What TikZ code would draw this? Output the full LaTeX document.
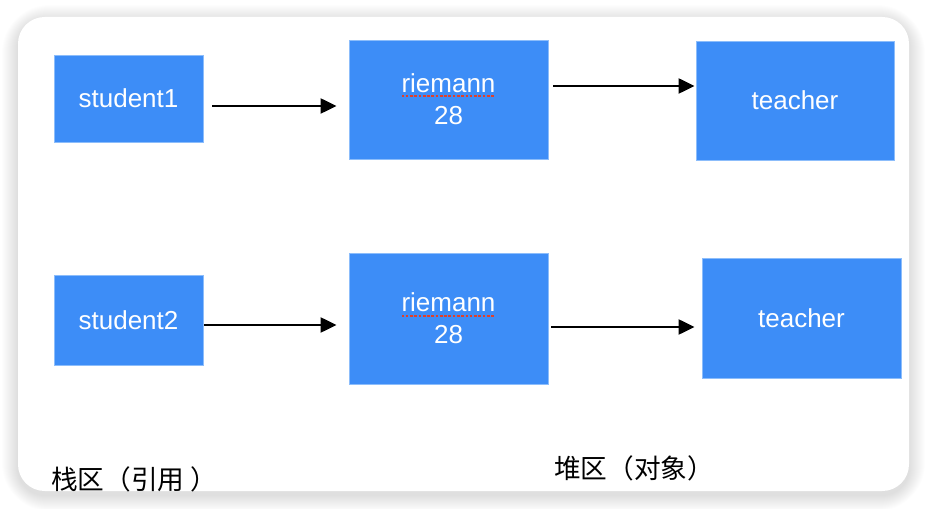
\documentclass[tikz,border=0pt]{standalone}
\usepackage{fontspec}
\setmainfont{Liberation Sans}
\newfontfamily\cjk{Noto Sans CJK SC}
\usetikzlibrary{arrows.meta,calc}
\definecolor{boxblue}{HTML}{3D8DF7}
\definecolor{boxedge}{HTML}{8CBDFB}
\definecolor{spellred}{HTML}{E0402A}
\tikzset{
  blk/.style={rectangle, fill=boxblue, draw=boxedge, line width=0.5pt, text=white,
    font=\fontsize{19.5}{24}\selectfont, align=center, inner sep=0pt},
  link/.style={line width=2.2pt, -{Triangle[length=12pt,width=11pt]}},
  spell/.style={draw=spellred, line width=1.5pt, dash pattern=on 2pt off 1.2pt},
  zone/.style={font=\cjk\fontsize{20}{24}\selectfont, anchor=base west, inner sep=0pt}
}
\begin{document}
\begin{tikzpicture}[x=0.75pt,y=-0.75pt]
\useasboundingbox (0,0) rectangle (927,509);
\fill[white] (0,0) rectangle (927,509);
% card shadow
\foreach \i in {1,...,16}{
  \fill[black,opacity=0.008,rounded corners=20+\i] (18-\i,17-\i+4) rectangle (909+\i,491+\i+4);
}
\fill[white,rounded corners=20] (18,17) rectangle (909,491);
\begin{scope}
\clip[rounded corners=20] (18,17) rectangle (909,491);
% boxes
\node[blk, minimum width=111.75pt, minimum height=65.25pt] (s1) at (128.5,98.5) {student1};
\node[blk, minimum width=149.25pt, minimum height=89.25pt] (r1) at (448.5,99.5) {riemann\\28};
\node[blk, minimum width=148.5pt, minimum height=89.25pt] (t1) at (795,100.5) {teacher};
\node[blk, minimum width=111.75pt, minimum height=67.5pt] (s2) at (128.5,320) {student2};
\node[blk, minimum width=149.25pt, minimum height=98.25pt] (r2) at (448.5,318.5) {riemann\\28};
\node[blk, minimum width=149.25pt, minimum height=90pt] (t2) at (801.5,318.5) {teacher};
% spell-check underlines
\draw[spell] ($(r1.center)+(-47,-3)$) -- ($(r1.center)+(45,-3)$);
\draw[spell] ($(r2.center)+(-47,-2)$) -- ($(r2.center)+(45,-2)$);
% arrows
\draw[link] ($(s1.east)+(9,7.5)$) -- ($(r1.west)+(-12,6.5)$);
\draw[link] ($(r1.east)+(5,-13.5)$) -- ($(t1.west)+(-1,-14.5)$);
\draw[link] ($(s2.east)+(1,5)$) -- ($(r2.west)+(-12,6.5)$);
\draw[link] ($(r2.east)+(3,8.5)$) -- ($(t2.west)+(-7,8.5)$);
% zone labels
\node[zone] (stack) at (51,489) {栈区（引用 ）};
\node[zone] (heap) at (554,478) {堆区（对象）};
\end{scope}
\end{tikzpicture}
\end{document}
